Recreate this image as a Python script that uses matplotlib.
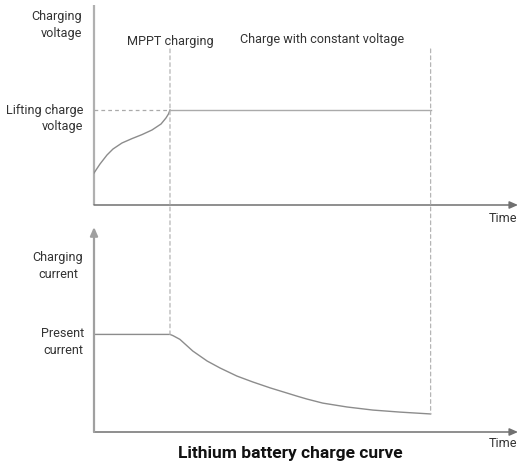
import numpy as np
import matplotlib.pyplot as plt
from matplotlib.patches import ConnectionPatch

plt.rcParams['font.family'] = ['Roboto', 'DejaVu Sans']

# time axis (arbitrary units, MPPT phase ends at t = 1)
t_mppt = 1.0
t_end = 4.43
t_max = 5.58

# charging voltage during MPPT phase (fraction of axis height)
t_volt = [0, 0.079, 0.171, 0.25, 0.368, 0.5, 0.632, 0.763, 0.882, 0.947, 0.98, 1.0]
v_volt = [0.16, 0.205, 0.25, 0.28, 0.31, 0.332, 0.352, 0.375, 0.405, 0.435, 0.455, 0.475]
v_lift = 0.475
guide_top = 0.78

# charging current
t_cur = [0, 1.0, 1.04, 1.13, 1.30, 1.49, 1.66, 1.88, 2.09, 2.32, 2.54, 2.68,
         2.80, 3.01, 3.33, 3.67, 4.03, 4.43]
i_cur = [0.476, 0.476, 0.47, 0.452, 0.395, 0.346, 0.312, 0.273, 0.244, 0.215,
         0.190, 0.174, 0.161, 0.141, 0.122, 0.107, 0.097, 0.088]

W, H = 520, 464
fig = plt.figure(figsize=(W / 100, H / 100), dpi=100)

def px(x0, y0, x1, y1):
    return [x0 / W, 1 - y1 / H, (x1 - x0) / W, (y1 - y0) / H]

ax1 = fig.add_axes(px(94, 6, 518, 206))
ax2 = fig.add_axes(px(94, 228, 518, 433))

line_c = '#8c8c8c'
text_c = '#333333'

for ax in (ax1, ax2):
    ax.set_xlim(0, t_max)
    ax.set_ylim(0, 1)
    ax.axis('off')
    ax.annotate('', xy=(1, 0), xytext=(0, 0), xycoords='axes fraction',
                arrowprops=dict(arrowstyle='-|>,head_length=0.5,head_width=0.22',
                                color='#707070', lw=1.1, shrinkA=0, shrinkB=0))

ax1.plot([0, 0], [0, 1], transform=ax1.transAxes, color='#b0b0b0', lw=1.6,
         clip_on=False, solid_capstyle='butt')
ax2.annotate('', xy=(0, 1), xytext=(0, 0), xycoords='axes fraction',
             arrowprops=dict(arrowstyle='-|>,head_length=0.5,head_width=0.22',
                             color='#a0a0a0', lw=1.6, shrinkA=0, shrinkB=0))

# voltage curve
ax1.plot(t_volt, v_volt, color=line_c, lw=1.0)
ax1.plot([t_mppt, t_end], [v_lift, v_lift], color='#aaaaaa', lw=1.0)
ax1.plot([0, t_mppt], [v_lift, v_lift], color='#aaaaaa', lw=0.9, ls=(0, (3, 2.5)))

# current curve
ax2.plot(t_cur, i_cur, color=line_c, lw=1.0)

# phase guides
for t, yb in [(t_mppt, i_cur[0]), (t_end, i_cur[-1])]:
    cp = ConnectionPatch(xyA=(t, guide_top), coordsA=ax1.transData,
                         xyB=(t, yb), coordsB=ax2.transData,
                         color='#b5b5b5', lw=0.9, ls=(0, (3, 2.5)))
    fig.add_artist(cp)

fs = 9.1
def ftext(x, y, s, **kw):
    kw.setdefault('color', text_c)
    kw.setdefault('fontsize', fs)
    kw.setdefault('va', 'center')
    fig.text(x / W, 1 - y / H, s, linespacing=1.35, **kw)

ftext(82, 25, 'Charging\nvoltage', ha='right', multialignment='right')
ftext(83, 118.5, 'Lifting charge\nvoltage', ha='right', multialignment='right')
ftext(170, 41, 'MPPT charging', ha='center')
ftext(322, 40, 'Charge with constant voltage', ha='center')
ftext(503, 219, 'Time', ha='center')
ftext(58, 266, 'Charging\ncurrent', ha='center', multialignment='center')
ftext(63, 342, 'Present\ncurrent', ha='center', multialignment='center')
ftext(503, 444, 'Time', ha='center')
ftext(290, 454, 'Lithium battery charge curve', ha='center', fontsize=12.5,
      fontweight='bold', color='#111111')

fig.savefig('out.png', dpi=100)
